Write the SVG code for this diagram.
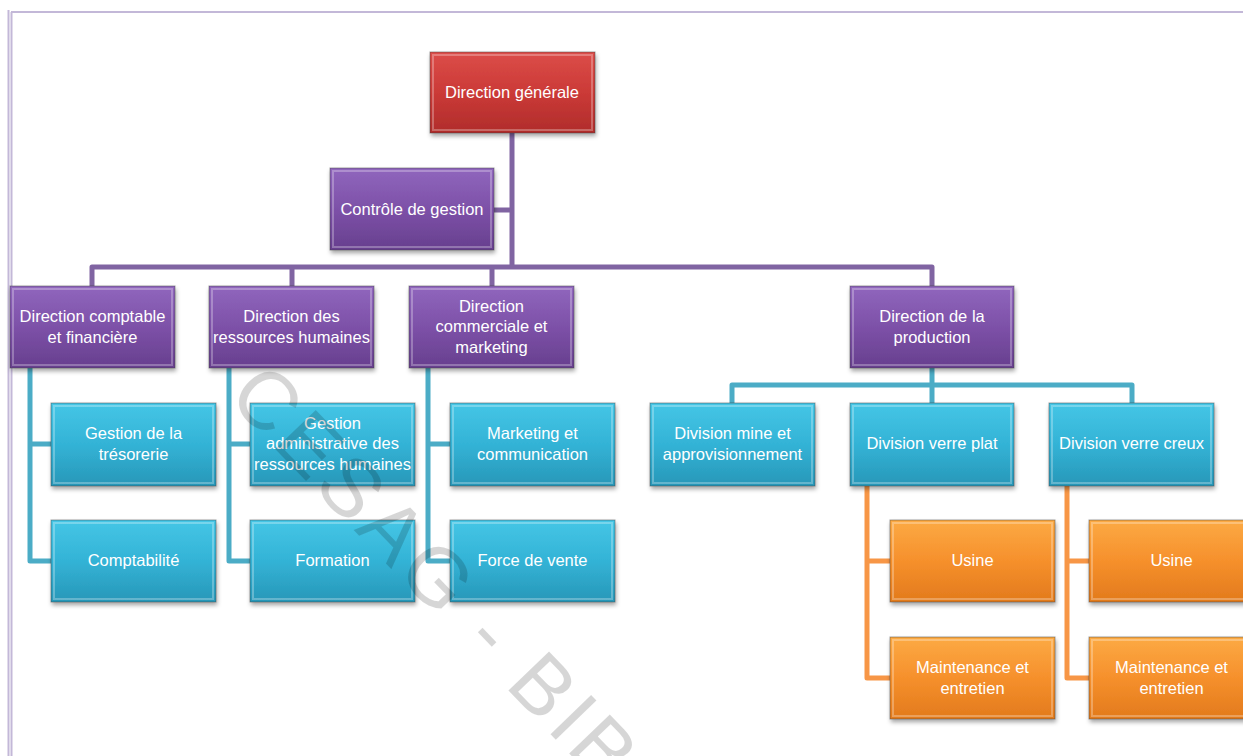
<svg xmlns="http://www.w3.org/2000/svg" width="1243" height="756" viewBox="0 0 1243 756">
<defs>
<linearGradient id="gRed" x1="0" y1="0" x2="0" y2="1"><stop offset="0" stop-color="#dc4d49"/><stop offset="0.5" stop-color="#cb3a37"/><stop offset="1" stop-color="#b02c2b"/></linearGradient>
<linearGradient id="gPur" x1="0" y1="0" x2="0" y2="1"><stop offset="0" stop-color="#9066bd"/><stop offset="0.5" stop-color="#7d51a8"/><stop offset="1" stop-color="#673f8e"/></linearGradient>
<linearGradient id="gBlu" x1="0" y1="0" x2="0" y2="1"><stop offset="0" stop-color="#45c6e6"/><stop offset="0.5" stop-color="#33b3d6"/><stop offset="1" stop-color="#2897b8"/></linearGradient>
<linearGradient id="gOra" x1="0" y1="0" x2="0" y2="1"><stop offset="0" stop-color="#fcaa44"/><stop offset="0.5" stop-color="#f6902c"/><stop offset="1" stop-color="#e27a1c"/></linearGradient>
<filter id="sh" x="-10%" y="-10%" width="125%" height="130%"><feDropShadow dx="1" dy="3" stdDeviation="2" flood-color="#000" flood-opacity="0.35"/></filter>
</defs>
<style>
.box{stroke:#3a3a3a;stroke-opacity:0.45;stroke-width:1;filter:url(#sh)}
.hl{fill:none;stroke:#fff;stroke-opacity:0.28;stroke-width:2}
.red .box{fill:url(#gRed)}
.pur .box{fill:url(#gPur)}
.blu .box{fill:url(#gBlu)}
.ora .box{fill:url(#gOra)}
text{font-family:"Liberation Sans",Arial,sans-serif;font-size:16.5px;fill:#fff;text-anchor:middle}
.c{fill:none;stroke-width:5;stroke-linejoin:round;stroke-linecap:butt}
.cp{stroke:#8064a2}
.cb{stroke:#4bacc6}
.co{stroke:#f79646}
.wm{font-size:82px;letter-spacing:5px;fill:#000;fill-opacity:0.16;text-anchor:start}
</style>
<rect width="1243" height="756" fill="#fff"/>
<g id="border" fill="none" stroke="#c3b8d8" stroke-width="2">
<line x1="8.5" y1="10" x2="8.5" y2="756"/>
<line x1="11.5" y1="12" x2="11.5" y2="756"/>
<line x1="11" y1="12" x2="1243" y2="12"/>
</g>
<g id="connectors">
<path class="c cp" d="M512 133V267M494 210H512M92 286V267H932V286M292 267V286M492 267V286"/>
<path class="c cb" d="M30 368V561H51M30 444H51"/>
<path class="c cb" d="M229 368V561H250M229 444H250"/>
<path class="c cb" d="M428 368V561H450M428 444H450"/>
<path class="c cb" d="M932 368V403M732 403V385H1132V403"/>
<path class="c co" d="M867 486V678H890M867 561H890"/>
<path class="c co" d="M1067 486V678H1089M1067 561H1089"/>
</g>
<g id="n-dg" class="red"><rect class="box" x="430" y="52" width="165" height="81"/><rect class="hl" x="433" y="55" width="159" height="75"/><text x="512" y="98">Direction générale</text></g>
<g id="n-cg" class="pur"><rect class="box" x="330" y="168" width="164" height="82"/><rect class="hl" x="333" y="171" width="158" height="76"/><text x="412" y="215">Contrôle de gestion</text></g>
<g id="n-dcf" class="pur"><rect class="box" x="10" y="286" width="165" height="82"/><rect class="hl" x="13" y="289" width="159" height="76"/><text x="92.5" y="322">Direction comptable</text><text x="92.5" y="343">et financière</text></g>
<g id="n-drh" class="pur"><rect class="box" x="209" y="286" width="165" height="82"/><rect class="hl" x="212" y="289" width="159" height="76"/><text x="291.5" y="322">Direction des</text><text x="291.5" y="343">ressources humaines</text></g>
<g id="n-dcm" class="pur"><rect class="box" x="409" y="286" width="165" height="82"/><rect class="hl" x="412" y="289" width="159" height="76"/><text x="491.5" y="312">Direction</text><text x="491.5" y="332">commerciale et</text><text x="491.5" y="353">marketing</text></g>
<g id="n-dp" class="pur"><rect class="box" x="850" y="286" width="164" height="82"/><rect class="hl" x="853" y="289" width="158" height="76"/><text x="932" y="322">Direction de la</text><text x="932" y="343">production</text></g>
<g id="n-tres" class="blu"><rect class="box" x="51" y="403" width="165" height="83"/><rect class="hl" x="54" y="406" width="159" height="77"/><text x="133.5" y="439">Gestion de la</text><text x="133.5" y="460">trésorerie</text></g>
<g id="n-compta" class="blu"><rect class="box" x="51" y="520" width="165" height="82"/><rect class="hl" x="54" y="523" width="159" height="76"/><text x="133.5" y="566">Comptabilité</text></g>
<g id="n-garh" class="blu"><rect class="box" x="250" y="403" width="165" height="83"/><rect class="hl" x="253" y="406" width="159" height="77"/><text x="332.5" y="429">Gestion</text><text x="332.5" y="449">administrative des</text><text x="332.5" y="470">ressources humaines</text></g>
<g id="n-form" class="blu"><rect class="box" x="250" y="520" width="165" height="82"/><rect class="hl" x="253" y="523" width="159" height="76"/><text x="332.5" y="566">Formation</text></g>
<g id="n-mkt" class="blu"><rect class="box" x="450" y="403" width="165" height="83"/><rect class="hl" x="453" y="406" width="159" height="77"/><text x="532.5" y="439">Marketing et</text><text x="532.5" y="460">communication</text></g>
<g id="n-fv" class="blu"><rect class="box" x="450" y="520" width="165" height="82"/><rect class="hl" x="453" y="523" width="159" height="76"/><text x="532.5" y="566">Force de vente</text></g>
<g id="n-dma" class="blu"><rect class="box" x="650" y="403" width="165" height="83"/><rect class="hl" x="653" y="406" width="159" height="77"/><text x="732.5" y="439">Division mine et</text><text x="732.5" y="460">approvisionnement</text></g>
<g id="n-dvp" class="blu"><rect class="box" x="850" y="403" width="164" height="83"/><rect class="hl" x="853" y="406" width="158" height="77"/><text x="932" y="449">Division verre plat</text></g>
<g id="n-dvc" class="blu"><rect class="box" x="1049" y="403" width="165" height="83"/><rect class="hl" x="1052" y="406" width="159" height="77"/><text x="1131.5" y="449">Division verre creux</text></g>
<g id="n-usine1" class="ora"><rect class="box" x="890" y="520" width="165" height="82"/><rect class="hl" x="893" y="523" width="159" height="76"/><text x="972.5" y="566">Usine</text></g>
<g id="n-maint1" class="ora"><rect class="box" x="890" y="637" width="165" height="82"/><rect class="hl" x="893" y="640" width="159" height="76"/><text x="972.5" y="673">Maintenance et</text><text x="972.5" y="694">entretien</text></g>
<g id="n-usine2" class="ora"><rect class="box" x="1089" y="520" width="165" height="82"/><rect class="hl" x="1092" y="523" width="159" height="76"/><text x="1171.5" y="566">Usine</text></g>
<g id="n-maint2" class="ora"><rect class="box" x="1089" y="637" width="165" height="82"/><rect class="hl" x="1092" y="640" width="159" height="76"/><text x="1171.5" y="673">Maintenance et</text><text x="1171.5" y="694">entretien</text></g>
<text class="wm" transform="translate(226,398) rotate(46)">CESAG - BIBL</text>
</svg>
